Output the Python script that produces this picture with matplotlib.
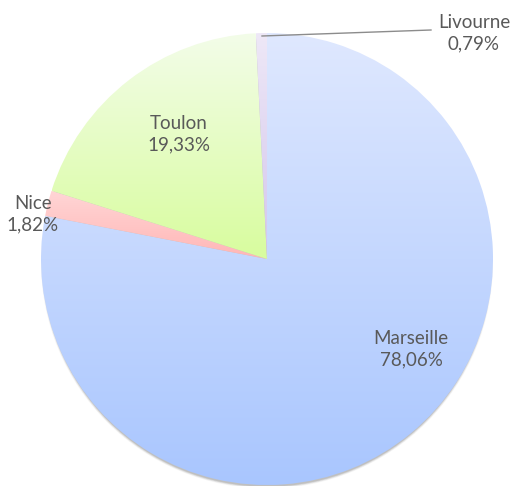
import numpy as np
import matplotlib
matplotlib.use('Agg')
import matplotlib.pyplot as plt
from matplotlib.colors import LinearSegmentedColormap
from matplotlib.patches import Circle

# Data
cities = ['Marseille', 'Nice', 'Toulon', 'Livourne']
shares = [78.06, 1.82, 19.33, 0.79]
pct_labels = ['78,06%', '1,82%', '19,33%', '0,79%']
# gradient colours per slice (top, bottom)
grad_top = ['#dfe8fe', '#ffd6d6', '#f3fce9', '#eee8f7']
grad_bottom = ['#a9c6ff', '#ffb6b6', '#d8fd9e', '#d3c6ec']

W, H = 513, 486
fig = plt.figure(figsize=(W / 100, H / 100), dpi=100)
ax = fig.add_axes([0, 0, 1, 1])

cx, cy, R = 267, 486 - 259, 226

# soft shadow under the pie (mostly visible at the bottom)
for i, a in enumerate([0.05, 0.07, 0.10, 0.14]):
    ax.add_patch(Circle((cx, cy - 3.5), R - i * 0.6, fc='#404040', ec='none', alpha=a, zorder=0))

wedges, _ = ax.pie(shares, startangle=90, counterclock=False, center=(cx, cy), radius=R,
                   wedgeprops=dict(ec='none', lw=0))

for w, ctop, cbot in zip(wedges, grad_top, grad_bottom):
    w.set_facecolor('none')
    ext = w.get_path().get_extents(w.get_patch_transform() + w.get_data_transform() - ax.transData)
    cmap = LinearSegmentedColormap.from_list('g', [cbot, ctop])
    grad = np.linspace(0, 1, 256).reshape(-1, 1)
    im = ax.imshow(grad, cmap=cmap, origin='lower', aspect='auto', interpolation='bilinear',
                   extent=(ext.x0, ext.x1, ext.y0, ext.y1), zorder=2)
    im.set_clip_path(w)

ax.set_xlim(0, W)
ax.set_ylim(0, H)
ax.set_aspect('auto')
ax.axis('off')

txt = dict(ha='center', va='center', fontsize=13.5, color='#595959', family=['Lato', 'DejaVu Sans'],
           linespacing=1.3, zorder=5)
ax.text(411, H - 349, f"{cities[0]}\n{pct_labels[0]}", **txt)
ax.text(179, H - 134, f"{cities[2]}\n{pct_labels[2]}", **txt)
ax.text(33, H - 214, f"{cities[1]}\n{pct_labels[1]}", **txt)
ax.text(474, H - 33, f"{cities[3]}\n{pct_labels[3]}", **txt)

# leader line for Livourne
ax.plot([262, 431], [H - 36, H - 30], color='#8c8c8c', lw=1, zorder=4)

plt.savefig('out.png', dpi=100)
